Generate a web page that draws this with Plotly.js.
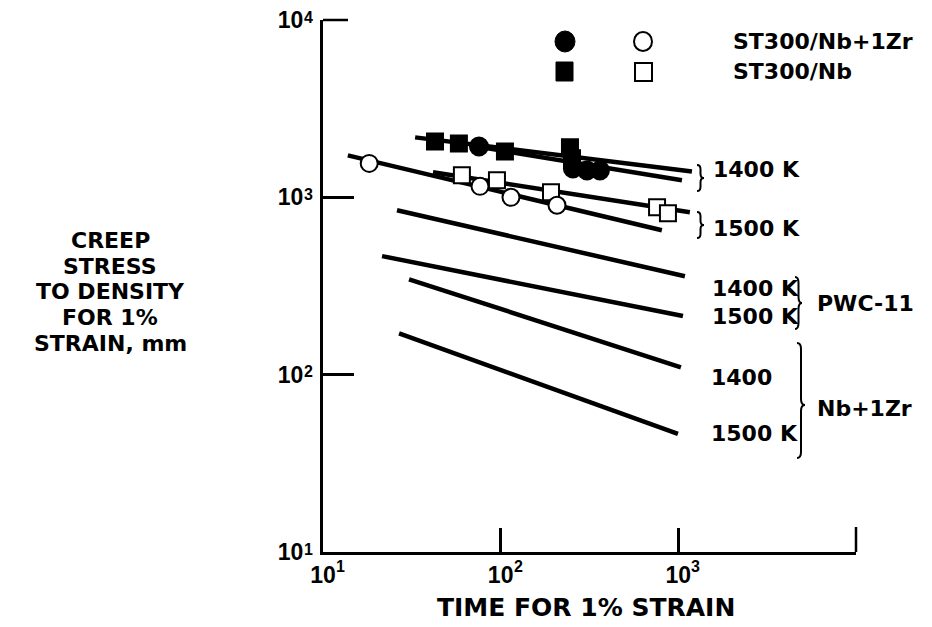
<!DOCTYPE html>
<html>
<head>
<meta charset="utf-8">
<script src="https://cdn.plot.ly/plotly-3.0.1.min.js"></script>
<style>html,body{margin:0;padding:0;background:#fff;}#chart{width:932px;height:627px;}</style>
</head>
<body>
<div id="chart"></div>
<script>
// ---- Data (time in h, creep stress-to-density in mm) ----
// Fitted lines: [start, end]
const st300Nb1400Time = [33.0, 1193];
const st300Nb1400Stress = [2178, 1400];
const st300NbZr1400Time = [67.1, 1048];
const st300NbZr1400Stress = [1963, 1247];
const st300NbZr1500Time = [13.8, 808];
const st300NbZr1500Stress = [1724, 652];
const st300Nb1500Time = [41.6, 1161];
const st300Nb1500Stress = [1384, 823];
const pwc1400Time = [26.1, 1089];
const pwc1400Stress = [845, 359];
const pwc1500Time = [21.5, 1062];
const pwc1500Stress = [466, 214];
const nbZr1400Time = [30.5, 1034];
const nbZr1400Stress = [345, 110];
const nbZr1500Time = [26.8, 995];
const nbZr1500Stress = [171, 46.3];

// Data points
const fSqTime = [42.7, 58.2, 105.7, 245.5, 252];      // ST300/Nb, 1400 K (filled squares)
const fSqStress = [2068, 2015, 1815, 1914, 1659];
const fCirTime = [75.5, 255, 306, 362];               // ST300/Nb+1Zr, 1400 K (filled circles)
const fCirStress = [1936, 1455, 1419, 1419];
const oCirTime = [18.2, 76.5, 114.3, 207.5];          // ST300/Nb+1Zr, 1500 K (open circles)
const oCirStress = [1554, 1153, 1000, 902];
const oSqTime = [60.5, 95.3, 192, 759, 874];          // ST300/Nb, 1500 K (open squares)
const oSqStress = [1331, 1247, 1067, 879, 813];

const xTickVals = [10, 100, 1000, 10000];
const xTickText = ['10', '10', '10', ''];
const yTickVals = [10, 100, 1000, 10000];
const yTickText = ['10', '10', '10', '10'];

const yTitleLines = ['CREEP', 'STRESS', 'TO DENSITY', 'FOR 1%', 'STRAIN, mm'];
const xTitle = 'TIME FOR 1% STRAIN';
const legendLabels = ['ST300/Nb+1Zr', 'ST300/Nb'];

// ---- Layout geometry ----
const W = 932, H = 627;
const M = {l: 323, r: 76, t: 20, b: 75};
const PW = W - M.l - M.r, PH = H - M.t - M.b;
const px = x => (x - M.l) / PW;
const py = y => (H - M.b - y) / PH;

const LBL = {family: 'DejaVu Sans', size: 22, color: '#000', weight: 'bold'};

const lineStyle = {color: '#000', width: 4.5};
function fitLine(x, y) {
  return {x: x, y: y, type: 'scatter', mode: 'lines', line: lineStyle, hoverinfo: 'skip'};
}
function pts(x, y, symbol, filled, size) {
  return {x: x, y: y, type: 'scatter', mode: 'markers',
    marker: {symbol: symbol, size: size, color: filled ? '#000' : '#fff',
             line: {color: '#000', width: 2}}};
}

const traces = [
  fitLine(st300Nb1400Time, st300Nb1400Stress),
  fitLine(st300NbZr1400Time, st300NbZr1400Stress),
  fitLine(st300NbZr1500Time, st300NbZr1500Stress),
  fitLine(st300Nb1500Time, st300Nb1500Stress),
  fitLine(pwc1400Time, pwc1400Stress),
  fitLine(pwc1500Time, pwc1500Stress),
  fitLine(nbZr1400Time, nbZr1400Stress),
  fitLine(nbZr1500Time, nbZr1500Stress),
  pts(fSqTime, fSqStress, 'square', true, 16),
  pts(fCirTime, fCirStress, 'circle', true, 18),
  pts(oSqTime, oSqStress, 'square', false, 16),
  pts(oCirTime, oCirStress, 'circle', false, 17)
];

// Braces drawn as paths in paper coordinates (from pixel positions)
function brace(x, y0, y1, ym, w) {
  const xm = x + w / 2, r = Math.min(6, (y1 - y0) / 6);
  const P = (a, b) => px(a) + ',' + py(b);
  return 'M' + P(x, y0) + ' Q' + P(xm, y0) + ' ' + P(xm, y0 + r) +
    ' L' + P(xm, ym - r) + ' Q' + P(xm, ym) + ' ' + P(x + w, ym) +
    ' Q' + P(xm, ym) + ' ' + P(xm, ym + r) +
    ' L' + P(xm, y1 - r) + ' Q' + P(xm, y1) + ' ' + P(x, y1);
}
const braceLine = {color: '#000', width: 2};
const tickLine = {color: '#000', width: 2.5};
const shapes = [
  {type: 'path', xref: 'paper', yref: 'paper', path: brace(697, 165, 191, 178, 7), line: braceLine},
  {type: 'path', xref: 'paper', yref: 'paper', path: brace(697, 212, 238, 225, 7), line: braceLine},
  {type: 'path', xref: 'paper', yref: 'paper', path: brace(795, 277, 329, 303, 7), line: braceLine},
  {type: 'path', xref: 'paper', yref: 'paper', path: brace(797, 343, 458, 405, 8), line: braceLine},
  // end ticks at 10^4 on both axes
  {type: 'line', xref: 'paper', yref: 'paper', x0: 1, x1: 1, y0: 0, y1: py(527), line: tickLine},
  {type: 'line', xref: 'paper', yref: 'paper', x0: 0, x1: px(348), y0: 1, y1: 1, line: tickLine},
  // legend symbols
  {type: 'circle', xref: 'paper', yref: 'paper', x0: px(555), x1: px(575), y0: py(52), y1: py(31),
   fillcolor: '#000', line: {color: '#000', width: 1}},
  {type: 'circle', xref: 'paper', yref: 'paper', x0: px(634), x1: px(652), y0: py(51), y1: py(32),
   fillcolor: '#fff', line: {color: '#000', width: 2}},
  {type: 'rect', xref: 'paper', yref: 'paper', x0: px(556), x1: px(573), y0: py(81), y1: py(62),
   fillcolor: '#000', line: {color: '#000', width: 1}},
  {type: 'rect', xref: 'paper', yref: 'paper', x0: px(635), x1: px(652), y0: py(81), y1: py(63),
   fillcolor: '#fff', line: {color: '#000', width: 2}}
];

function ann(text, x, y, xanchor, font) {
  return {text: text, xref: 'paper', yref: 'paper', x: px(x), y: py(y),
    xanchor: xanchor || 'left', yanchor: 'middle', showarrow: false, font: font || LBL};
}
const titleFont = {family: 'DejaVu Sans', size: 22, color: '#000', weight: 'bold'};
const legFont = {family: 'DejaVu Sans', size: 22, color: '#000', weight: 'bold'};
const expFont = {family: 'Liberation Sans', size: 16, color: '#000', weight: 'bold'};
const annotations = [
  ann('1400 K', 711, 170), ann('1500 K', 711, 228),
  ann('1400 K', 710, 288), ann('1500 K', 710, 316),
  ann('PWC-11', 815, 303),
  ann('1400', 709, 378), ann('1500 K', 709, 433),
  ann('Nb+1Zr', 815, 408),
  ann(legendLabels[0], 731, 41, 'left', legFont),
  ann(legendLabels[1], 731, 71, 'left', legFont),
  ann(xTitle, 586, 608, 'center', {family: 'DejaVu Sans', size: 25, color: '#000', weight: 'bold'})
];
const yTitleY = [240, 266, 291, 317, 343];
yTitleLines.forEach((t, i) => annotations.push(ann(t, 110, yTitleY[i], 'center', titleFont)));

// exponents of the power-of-ten tick labels
xTickVals.forEach((v, i) => {
  if (!xTickText[i]) return;
  annotations.push({text: String(Math.round(Math.log10(v))), xref: 'x', yref: 'paper',
    x: Math.log10(v), y: py(566), xanchor: 'left', yanchor: 'middle', xshift: 11,
    showarrow: false, font: expFont});
});
yTickVals.forEach(v => {
  annotations.push({text: String(Math.round(Math.log10(v))), xref: 'paper', yref: 'y',
    x: px(302), y: Math.log10(v), xanchor: 'left', yanchor: 'middle', yshift: 3,
    showarrow: false, font: expFont});
});

const tickFont = {family: 'Liberation Sans', size: 23, color: '#000', weight: 'bold'};
const layout = {
  width: W, height: H,
  margin: M,
  paper_bgcolor: '#fff', plot_bgcolor: '#fff',
  showlegend: false,
  xaxis: {type: 'log', range: [1, 4], showline: true, linecolor: '#000', linewidth: 3,
    showgrid: false, zeroline: false, ticks: 'inside', ticklen: 24, tickwidth: 2.5, tickcolor: '#000',
    tickvals: xTickVals, ticktext: xTickText, tickfont: tickFont},
  yaxis: {type: 'log', range: [1, 4], showline: true, linecolor: '#000', linewidth: 3,
    showgrid: false, zeroline: false, ticks: 'inside', ticklen: 31, tickwidth: 2.5, tickcolor: '#000',
    tickvals: yTickVals, ticktext: yTickText, tickfont: tickFont, ticklabelstandoff: 12},
  shapes: shapes,
  annotations: annotations
};

Plotly.newPlot('chart', traces, layout, {staticPlot: true, displayModeBar: false});
</script>
</body>
</html>
